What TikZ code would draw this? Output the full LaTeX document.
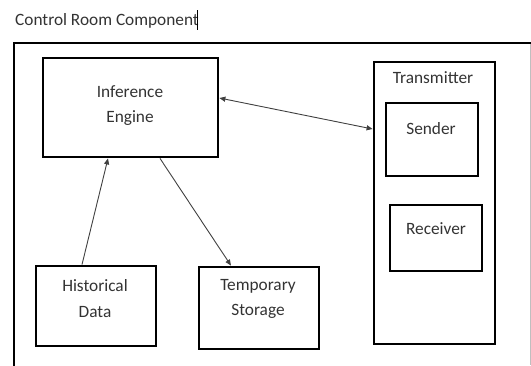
\documentclass[tikz,border=0pt]{standalone}
\usepackage{fontspec}
\setmainfont{Carlito}
\usetikzlibrary{arrows.meta}
\definecolor{txt}{HTML}{333333}
\definecolor{arr}{HTML}{404040}
\begin{document}
\begin{tikzpicture}[x=1pt,y=-1pt,
  box/.style={draw=black,line width=2.8pt,rectangle,inner sep=0pt},
  lbl/.style={text=txt,font=\fontsize{17.3}{25.5}\selectfont,align=center,inner sep=0pt},
  conn/.style={draw=arr,line width=0.9pt,-{Triangle[length=6pt,width=5pt]}},
  biconn/.style={draw=arr,line width=0.9pt,{Triangle[length=6pt,width=5pt]}-{Triangle[length=6pt,width=5pt]}}]
\useasboundingbox (0,0) rectangle (531,365);
% title and cursor
\node[lbl,anchor=base west] (title) at (15,25) {Control Room Component};
\draw[line width=0.9pt] (197,10) -- (197,30);
% outer frame
\draw[line width=2.8pt] (531,43) -- (14,43) -- (14,366);
\draw[line width=0.6pt,draw=black!25] (530,44) -- (530,365);
% boxes
\node[box,minimum width=175pt,minimum height=99pt] (ie) at (130.5,107.5) {};
\node[box,minimum width=121pt,minimum height=282pt] (tx) at (434.5,203) {};
\node[box,minimum width=92pt,minimum height=73pt] (snd) at (432,139.5) {};
\node[box,minimum width=92pt,minimum height=66pt] (rcv) at (436,238) {};
\node[box,minimum width=120pt,minimum height=80pt] (hd) at (96,306) {};
\node[box,minimum width=120pt,minimum height=82pt] (ts) at (259,308) {};
% labels
\node[lbl] (ieT) at (130,105.5) {Inference\\Engine};
\node[lbl] (txT) at (433,78) {Transmitter};
\node[lbl] (sndT) at (431,129) {Sender};
\node[lbl] (rcvT) at (436,229) {Receiver};
\node[lbl] (hdT) at (95,298.5) {Historical\\Data};
\node[lbl] (tsT) at (258,299) {Temporary\\Storage};
% connectors
\draw[conn] ([xshift=-14pt]hd.north) -- ([xshift=-22.5pt]ie.south);
\draw[conn] ([xshift=29.5pt]ie.south) -- ([xshift=-28pt]ts.north);
\draw[biconn] ([yshift=9.5pt]ie.east) -- ([yshift=74pt]tx.west);
\end{tikzpicture}
\end{document}
